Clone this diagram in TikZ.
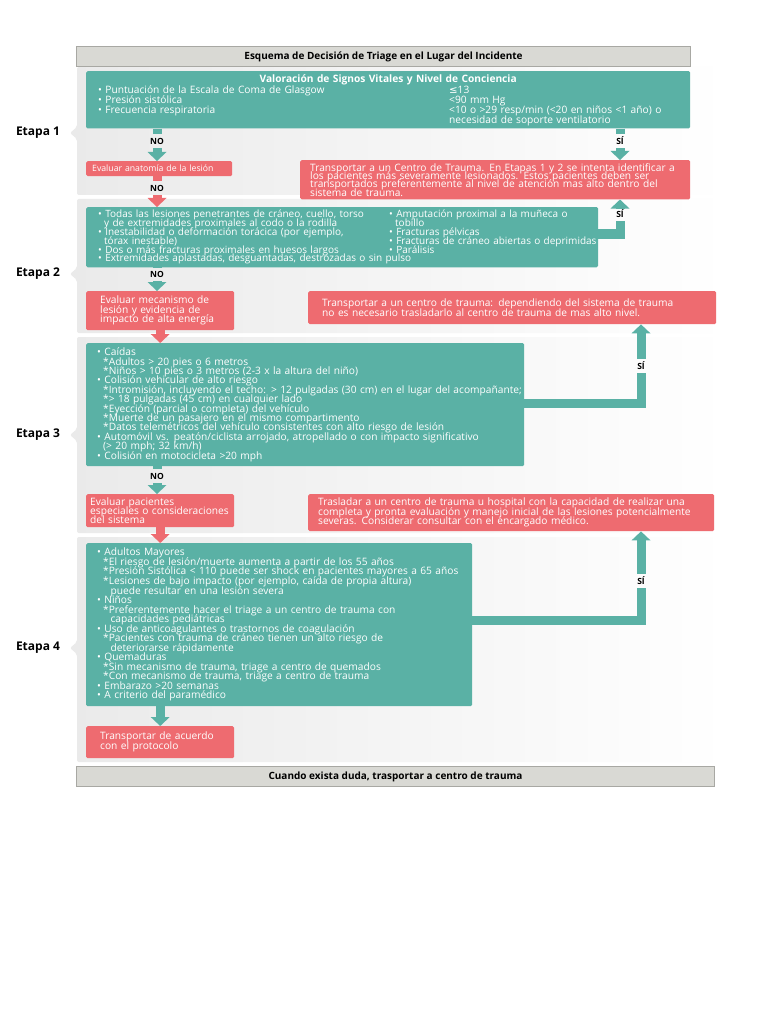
\documentclass[tikz,border=0pt]{standalone}
\usepackage{fontspec}
\setmainfont{Open Sans}
\newfontfamily\symfont{DejaVu Sans}
\usetikzlibrary{arrows.meta, positioning, calc}
\definecolor{tealbg}{HTML}{5AB1A5}
\definecolor{redbg}{HTML}{EE6B70}
\definecolor{barbg}{HTML}{D9D9D4}
\definecolor{barline}{HTML}{A8A8A3}
\definecolor{panelbg}{HTML}{EAEAEA}
\newcommand{\itm}{\textbullet\ }
\newcommand{\sbi}{\hspace*{6pt}}
\newcommand{\boxfont}[2]{\fontsize{#1}{#2}\selectfont\lineskiplimit=-20pt\relax}
\tikzset{
    boxbase/.style={anchor=north west, rounded corners=1.5pt, text=white, align=left, inner ysep=3pt, font=\boxfont{10.2}{9.4}},
    tealbox/.style={boxbase, fill=tealbg},
    redbox/.style={boxbase, fill=redbg},
    barbox/.style={anchor=north west, fill=barbg, draw=barline, line width=1pt, minimum height=20pt, inner sep=0pt, font=\bfseries\fontsize{10}{11}\selectfont},
    lbl/.style={inner sep=1pt, minimum height=14pt, font=\bfseries\fontsize{8.5}{10}\selectfont},
    stagelbl/.style={font=\bfseries\fontsize{12}{14}\selectfont},
    tealline/.style={draw=tealbg, line width=9pt},
    tealarrow/.style={tealline, -{Triangle[length=9pt,width=19pt,line width=0pt]}},
    redline/.style={draw=redbg, line width=9pt},
    redarrow/.style={redline, -{Triangle[length=9pt,width=19pt,line width=0pt]}}
}
\begin{document}
\begin{tikzpicture}[x=1pt, y=-1pt]
    \fill[white] (0,0) rectangle (768,1024);
    \useasboundingbox (0,0) rectangle (768,1024);

    % Stage panels
    \foreach \pt/\pb/\py in {67/195/133, 199/333/274, 337/533/435, 537/762/648}
        \shade[left color=panelbg, right color=white, rounded corners=2pt]
            (77,\pt) -- (728,\pt) -- (728,\pb) -- (77,\pb) -- (77,{\py+6}) -- (70,\py) -- (77,{\py-6}) -- cycle;

    \node[stagelbl] (e1) at (38,133) {Etapa 1};
    \node[stagelbl] (e2) at (38,274) {Etapa 2};
    \node[stagelbl] (e3) at (38,435) {Etapa 3};
    \node[stagelbl] (e4) at (38,648) {Etapa 4};

    \node[barbox, minimum width=614pt] (head) at (76,46) {Esquema de Decisión de Triage en el Lugar del Incidente};
    \node[barbox, minimum width=638pt] (foot) at (76,766) {Cuando exista duda, trasportar a centro de trauma};

    % Etapa 1
    \node[tealbox, minimum width=604pt, minimum height=57pt, inner xsep=12pt, text width=580pt, font=\boxfont{10.2}{10}] (vital) at (86,71) {%
        \makebox[\linewidth][c]{\bfseries Valoración de Signos Vitales y Nivel de Conciencia}\\[1pt]
        \makebox[351pt][l]{\itm Puntuación de la Escala de Coma de Glasgow}{\symfont ≤}13\\
        \makebox[351pt][l]{\itm Presión sistólica}<90 mm Hg\\
        \makebox[351pt][l]{\itm Frecuencia respiratoria}<10 o >29 resp/min (<20 en niños <1 año) o\\
        \hspace*{351pt}necesidad de soporte ventilatorio};
    \node[redbox, minimum width=146pt, minimum height=15pt, inner xsep=6pt, text width=134pt, inner ysep=1pt, font=\boxfont{8.7}{10}] (anat) at (86,161) {Evaluar anatomía de la lesión};
    \node[redbox, minimum width=390pt, minimum height=36pt, inner xsep=10pt, text width=370pt, font=\boxfont{10.2}{8.4}] (trans1) at (300,160) {%
        Transportar a un Centro de Trauma. En Etapas 1 y 2 se intenta identificar a\\
        los pacientes más severamente lesionados. Estos pacientes deben ser\\
        transportados preferentemente al nivel de atención mas alto dentro del\\
        sistema de trauma.};

    \node[lbl] (no1) at (157,141) {NO};
    \node[lbl] (si1) at (620,141) {SÍ};
    \draw[tealline] (vital.south -| no1) -- (no1.north);
    \draw[tealarrow] (no1.south) -- (anat.north -| no1);
    \draw[tealline] (vital.south -| si1) -- (si1.north);
    \draw[tealarrow] (si1.south) -- (trans1.north -| si1);

    % Etapa 2
    \node[tealbox, minimum width=512pt, minimum height=59pt, inner xsep=12pt, text width=488pt, font=\boxfont{10}{8.8}] (anatomy) at (86,207) {%
        \makebox[291pt][l]{\itm Todas las lesiones penetrantes de cráneo, cuello, torso}\makebox[0pt][l]{\itm Amputación proximal a la muñeca o}\\
        \makebox[291pt][l]{\sbi y de extremidades proximales al codo o la rodilla}\makebox[0pt][l]{\sbi tobillo}\\
        \makebox[291pt][l]{\itm Inestabilidad o deformación torácica (por ejemplo,}\makebox[0pt][l]{\itm Fracturas pélvicas}\\
        \makebox[291pt][l]{\sbi tórax inestable)}\makebox[0pt][l]{\itm Fracturas de cráneo abiertas o deprimidas}\\
        \makebox[291pt][l]{\itm Dos o más fracturas proximales en huesos largos}\makebox[0pt][l]{\itm Parálisis}\\
        \itm Extremidades aplastadas, desguantadas, destrozadas o sin pulso};
    \node[redbox, minimum width=148pt, minimum height=39pt, inner xsep=14pt, text width=120pt, font=\boxfont{10.2}{9.5}] (mech) at (86,291) {%
        Evaluar mecanismo de\\ lesión y evidencia de\\ impacto de alta energía};
    \node[redbox, minimum width=408pt, minimum height=33pt, inner xsep=14pt, text width=380pt] (trans2) at (308,291) {%
        Transportar a un centro de trauma: dependiendo del sistema de trauma\\
        no es necesario trasladarlo al centro de trauma de mas alto nivel.};

    \node[lbl] (no2) at (157,188) {NO};
    \draw[redline] (anat.south -| no2) -- (no2.north);
    \draw[redarrow] (no2.south) -- (anatomy.north -| no2);
    \node[lbl] (si2) at (620,214) {SÍ};
    \coordinate (t2) at (620,234);
    \draw[tealline] (anatomy.east |- t2) -- (t2) -- (si2.south);
    \draw[tealarrow] (si2.north) -- (trans1.south -| si2);
    \node[lbl] (no3) at (157,274) {NO};
    \draw[tealline] (anatomy.south -| no3) -- (no3.north);
    \draw[tealarrow] (no3.south) -- (mech.north -| no3);

    % Etapa 3
    \node[tealbox, minimum width=438pt, minimum height=123pt, inner xsep=11pt, text width=416pt] (crit3) at (86,343) {%
        \itm Caídas\\
        \sbi *Adultos > 20 pies o 6 metros\\
        \sbi *Niños > 10 pies o 3 metros (2-3 x la altura del niño)\\
        \itm Colisión vehicular de alto riesgo\\
        \mbox{\sbi *Intromisión, incluyendo el techo: > 12 pulgadas (30 cm) en el lugar del acompañante;}\\
        \sbi *> 18 pulgadas (45 cm) en cualquier lado\\
        \sbi *Eyección (parcial o completa) del vehículo\\
        \sbi *Muerte de un pasajero en el mismo compartimento\\
        \sbi *Datos telemétricos del vehículo consistentes con alto riesgo de lesión\\
        \mbox{\itm Automóvil vs. peatón/ciclista arrojado, atropellado o con impacto significativo}\\
        \sbi (> 20 mph; 32 km/h)\\
        \itm Colisión en motocicleta >20 mph};
    \draw[redarrow] (mech.south) -- (mech.south |- crit3.north);
    \node[lbl] (si3) at (641,366) {SÍ};
    \coordinate (t3) at (641,403);
    \draw[tealline] (crit3.east |- t3) -- (t3) -- (si3.south);
    \draw[tealarrow] (si3.north) -- (trans2.south -| si3);

    \node[redbox, minimum width=148pt, minimum height=33pt, inner xsep=4pt, text width=140pt] (spec) at (86,494) {%
        Evaluar pacientes\\ \mbox{especiales o consideraciones}\\ del sistema};
    \node[redbox, minimum width=406pt, minimum height=37pt, inner xsep=10pt, text width=386pt] (trans3) at (308,494) {%
        Trasladar a un centro de trauma u hospital con la capacidad de realizar una\\
        completa y pronta evaluación y manejo inicial de las lesiones potencialmente\\
        severas. Considerar consultar con el encargado médico.};
    \node[lbl] (no4) at (157,476) {NO};
    \draw[tealline] (crit3.south -| no4) -- (no4.north);
    \draw[tealarrow] (no4.south) -- (spec.north -| no4);

    % Etapa 4
    \node[tealbox, minimum width=386pt, minimum height=163pt, inner xsep=11pt, text width=364pt, font=\boxfont{10.2}{9.53}] (crit4) at (86,543) {%
        \itm Adultos Mayores\\
        \sbi *El riesgo de lesión/muerte aumenta a partir de los 55 años\\
        \mbox{\sbi *Presión Sistólica < 110 puede ser shock en pacientes mayores a 65 años}\\
        \sbi *Lesiones de bajo impacto (por ejemplo, caída de propia altura)\\
        \sbi\hspace*{4pt} puede resultar en una lesión severa\\
        \itm Niños\\
        \sbi *Preferentemente hacer el triage a un centro de trauma con\\
        \sbi\hspace*{4pt} capacidades pediátricas\\
        \itm Uso de anticoagulantes o trastornos de coagulación\\
        \sbi *Pacientes con trauma de cráneo tienen un alto riesgo de\\
        \sbi\hspace*{4pt} deteriorarse rápidamente\\
        \itm Quemaduras\\
        \sbi *Sin mecanismo de trauma, triage a centro de quemados\\
        \sbi *Con mecanismo de trauma, triage a centro de trauma\\
        \itm Embarazo >20 semanas\\
        \itm A criterio del paramédico};
    \draw[redarrow] (spec.south) -- (spec.south |- crit4.north);
    \node[lbl] (si4) at (641,581) {SÍ};
    \coordinate (t4) at (641,620);
    \draw[tealline] (crit4.east |- t4) -- (t4) -- (si4.south);
    \draw[tealarrow] (si4.north) -- (trans3.south -| si4);

    \node[redbox, minimum width=148pt, minimum height=32pt, inner xsep=14pt, text width=120pt, font=\boxfont{10.2}{10}] (proto) at (86,726) {%
        Transportar de acuerdo\\ con el protocolo};
    \draw[tealarrow] (crit4.south -| proto) -- (proto.north);
\end{tikzpicture}
\end{document}
